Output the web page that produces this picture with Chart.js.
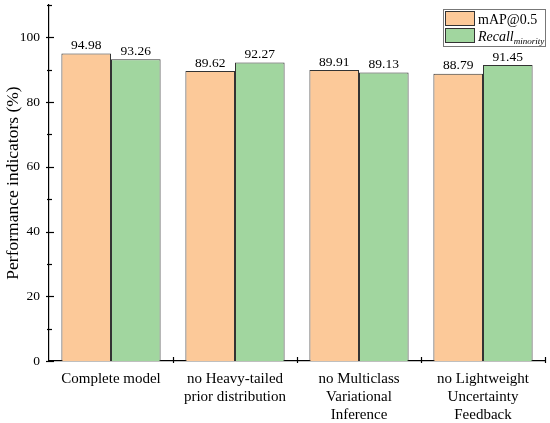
<!DOCTYPE html>
<html>
<head>
<meta charset="utf-8">
<script src="https://cdn.jsdelivr.net/npm/chart.js@4"></script>
<style>
  html, body { margin: 0; padding: 0; background: #fff; }
  #wrap { width: 550px; height: 423px; position: relative; }
</style>
</head>
<body>
<div id="wrap"><canvas id="chart"></canvas></div>
<script>
const categories = [
  "Complete model",
  ["no Heavy-tailed", "prior distribution"],
  ["no Multiclass", "Variational", "Inference"],
  ["no Lightweight", "Uncertainty", "Feedback"]
];
const mapValues = [94.98, 89.62, 89.91, 88.79];
const recallValues = [93.26, 92.27, 89.13, 91.45];
const yTicks = [0, 20, 40, 60, 80, 100];
const yMinorTicks = [10, 30, 50, 70, 90, 110];

const serif = "'Liberation Serif', 'Times New Roman', serif";
const orange = "rgb(252,201,153)";
const green = "rgb(161,214,159)";
const edge = "#333";

// value labels above each bar
const valueLabels = {
  id: "valueLabels",
  afterDatasetsDraw(chart) {
    const ctx = chart.ctx;
    ctx.save();
    ctx.font = "13.5px " + serif;
    ctx.fillStyle = "#000";
    ctx.textAlign = "center";
    ctx.textBaseline = "bottom";
    chart.data.datasets.forEach((ds, i) => {
      chart.getDatasetMeta(i).data.forEach((bar, j) => {
        ctx.fillText(ds.data[j].toFixed(2), bar.x, bar.y - 1);
      });
    });
    ctx.restore();
  }
};

// axis ticks (crossing the axis line) and the legend box
const extras = {
  id: "extras",
  afterDraw(chart) {
    const ctx = chart.ctx;
    const y = chart.scales.y, x = chart.scales.x;
    ctx.save();
    ctx.strokeStyle = "#000";
    ctx.lineWidth = 1.2;
    const ax = y.right;
    yTicks.forEach(v => {
      const py = Math.round(y.getPixelForValue(v)) + 0.5;
      ctx.beginPath();
      ctx.moveTo(ax - 3, py);
      ctx.lineTo(ax + 5, py);
      ctx.stroke();
    });
    yMinorTicks.forEach(v => {
      const py = Math.round(y.getPixelForValue(v)) + 0.5;
      ctx.beginPath();
      ctx.moveTo(ax - 2, py);
      ctx.lineTo(ax + 3, py);
      ctx.stroke();
    });
    const n = categories.length;
    for (let i = 1; i <= n; i++) {
      const px = Math.round(x.left + i * (x.right - x.left) / n) + 0.5;
      ctx.beginPath();
      ctx.moveTo(px, x.top + 2);
      ctx.lineTo(px, x.top - 4);
      ctx.stroke();
    }

    // legend
    const lx = 443, ly = 9, lw = 102, lh = 37;
    ctx.fillStyle = "#fff";
    ctx.fillRect(lx, ly, lw, lh);
    ctx.strokeStyle = "#777";
    ctx.lineWidth = 1;
    ctx.strokeRect(lx + 0.5, ly + 0.5, lw, lh);
    [orange, green].forEach((c, i) => {
      const sy = ly + 2 + i * 17;
      ctx.fillStyle = c;
      ctx.fillRect(445, sy, 29, 14);
      ctx.strokeStyle = edge;
      ctx.strokeRect(445.5, sy + 0.5, 29, 14);
    });
    ctx.fillStyle = "#000";
    ctx.textBaseline = "alphabetic";
    ctx.textAlign = "left";
    ctx.font = "14px " + serif;
    ctx.fillText("mAP@0.5", 478, ly + 15);
    ctx.font = "italic 14px " + serif;
    ctx.fillText("Recall", 478, ly + 32);
    const w = ctx.measureText("Recall").width;
    ctx.font = "italic 9px " + serif;
    ctx.fillText("minority", 478 + w, ly + 35);
    ctx.restore();
  }
};

new Chart(document.getElementById("chart"), {
  type: "bar",
  data: {
    labels: categories,
    datasets: [
      { label: "mAP@0.5", data: mapValues, backgroundColor: orange, borderColor: edge, borderWidth: 1 },
      { label: "Recall minority", data: recallValues, backgroundColor: green, borderColor: edge, borderWidth: 1 }
    ]
  },
  options: {
    responsive: true,
    maintainAspectRatio: false,
    animation: false,
    layout: { padding: { left: 0, right: 5, top: 5, bottom: 0 } },
    categoryPercentage: 0.8,
    barPercentage: 1.0,
    plugins: {
      legend: { display: false },
      tooltip: { enabled: false }
    },
    scales: {
      x: {
        grid: { display: false, drawTicks: false },
        border: { color: "#000", width: 1.2 },
        ticks: {
          color: "#000",
          padding: 9,
          maxRotation: 0,
          autoSkip: false,
          font: { family: serif, size: 15, lineHeight: 1.2 }
        },
        afterFit(scale) { scale.height = 62; }
      },
      y: {
        min: 0,
        max: 110,
        afterBuildTicks(scale) { scale.ticks = yTicks.map(v => ({ value: v })); },
        grid: { display: false, drawTicks: false },
        border: { color: "#000", width: 1.2 },
        ticks: {
          color: "#000",
          padding: 9,
          font: { family: serif, size: 13.5 }
        },
        title: {
          display: true,
          text: "Performance indicators (%)",
          color: "#000",
          padding: { top: 3, bottom: 0 },
          font: { family: serif, size: 17.5 }
        },
        afterFit(scale) {
          scale.width = 49;
          scale.paddingTop = 0;
          scale.paddingBottom = 0;
        }
      }
    }
  },
  plugins: [valueLabels, extras]
});
</script>
</body>
</html>
